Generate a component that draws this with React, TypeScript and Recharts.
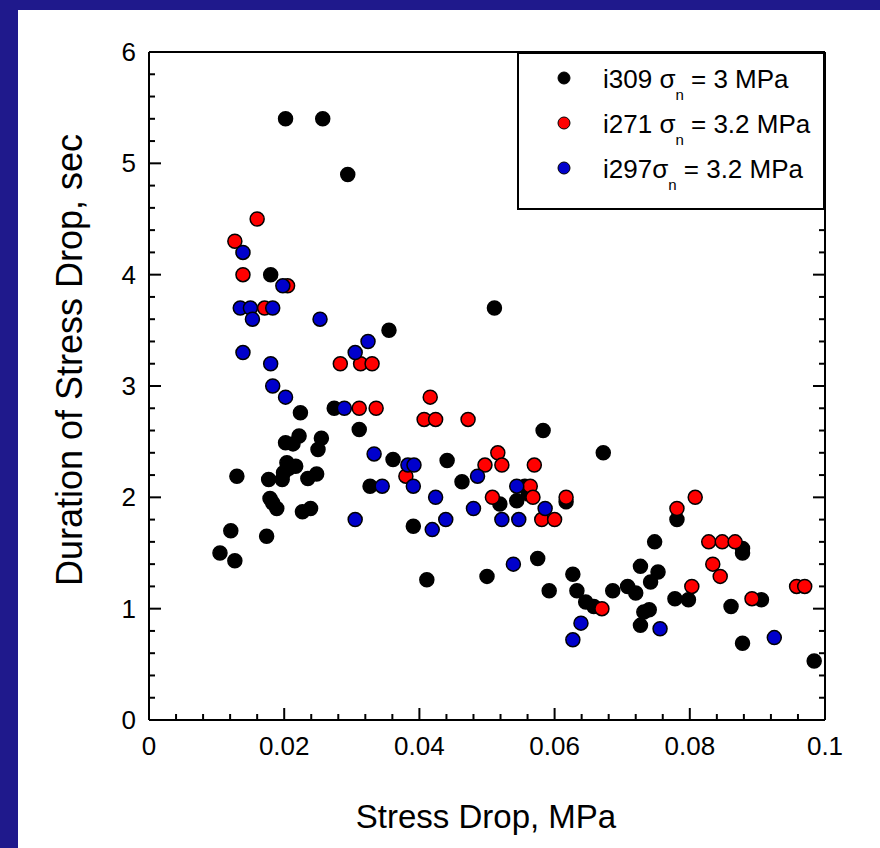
import React from "react";
import { ScatterChart, Scatter, XAxis, YAxis, Legend } from "recharts";

// i309, sigma_n = 3 MPa
const i309Stress = [
  0.0202, 0.0257, 0.0294, 0.018, 0.0355, 0.0511, 0.0224, 0.0274, 0.0311, 0.0202,
  0.0213, 0.0222, 0.0255, 0.025, 0.0361, 0.0327, 0.0204, 0.0207, 0.0217, 0.0199,
  0.013, 0.0177, 0.0197, 0.0235, 0.0248, 0.0179, 0.0183, 0.0189, 0.0227, 0.0239,
  0.0391, 0.0121, 0.0105, 0.0127, 0.0174, 0.0411, 0.0583, 0.0672, 0.0441, 0.0463,
  0.0556, 0.0561, 0.0519, 0.0544, 0.0617, 0.0781, 0.05, 0.0575, 0.0592, 0.0627,
  0.0633, 0.0646, 0.0658, 0.0686, 0.0708, 0.072, 0.0727, 0.0748, 0.0753, 0.0742,
  0.0732, 0.074, 0.0727, 0.0778, 0.0798, 0.0878, 0.0878, 0.0861, 0.0906, 0.0878,
  0.0984,
];
const i309Duration = [
  5.4, 5.4, 4.9, 4.0, 3.5, 3.7, 2.76, 2.8, 2.61, 2.49,
  2.48, 2.55, 2.53, 2.43, 2.34, 2.1, 2.31, 2.26, 2.28, 2.22,
  2.19, 2.16, 2.16, 2.17, 2.21, 1.99, 1.95, 1.9, 1.87, 1.9,
  1.74, 1.7, 1.5, 1.43, 1.65, 1.26, 2.6, 2.4, 2.33, 2.14,
  2.1, 2.03, 1.94, 1.97, 1.96, 1.8, 1.29, 1.45, 1.16, 1.31,
  1.16, 1.06, 1.02, 1.16, 1.2, 1.14, 1.38, 1.6, 1.33, 1.24,
  0.97, 0.99, 0.85, 1.09, 1.08, 1.54, 1.5, 1.02, 1.08, 0.69,
  0.53,
];

// i271, sigma_n = 3.2 MPa
const i271Stress = [
  0.016, 0.0127, 0.0139, 0.0205, 0.0171, 0.0283, 0.0313, 0.033, 0.0311, 0.0336,
  0.0416, 0.0407, 0.0424, 0.038, 0.0472, 0.0516, 0.0497, 0.0522, 0.057, 0.0564,
  0.0568, 0.0508, 0.0617, 0.0581, 0.06, 0.0781, 0.0808, 0.067, 0.0803, 0.0828,
  0.0848, 0.0867, 0.0834, 0.0845, 0.0892, 0.0958, 0.097,
];
const i271Duration = [
  4.5, 4.3, 4.0, 3.9, 3.7, 3.2, 3.2, 3.2, 2.8, 2.8,
  2.9, 2.7, 2.7, 2.19, 2.7, 2.4, 2.29, 2.29, 2.29, 2.1,
  2.0, 2.0, 2.0, 1.8, 1.8, 1.9, 2.0, 1.0, 1.2, 1.6,
  1.6, 1.6, 1.4, 1.29, 1.09, 1.2, 1.2,
];

// i297, sigma_n = 3.2 MPa
const i297Stress = [
  0.0139, 0.0198, 0.0135, 0.015, 0.0183, 0.0153, 0.0253, 0.0324, 0.0139, 0.0305,
  0.018, 0.0183, 0.0202, 0.0289, 0.0333, 0.0383, 0.0392, 0.0391, 0.0345, 0.0424,
  0.0305, 0.0419, 0.0486, 0.0544, 0.048, 0.0586, 0.0439, 0.0522, 0.0547, 0.0539,
  0.0639, 0.0627, 0.0756, 0.0925,
];
const i297Duration = [
  4.2, 3.9, 3.7, 3.7, 3.7, 3.6, 3.6, 3.4, 3.3, 3.3,
  3.2, 3.0, 2.9, 2.8, 2.39, 2.29, 2.29, 2.1, 2.1, 2.0,
  1.8, 1.71, 2.19, 2.1, 1.9, 1.9, 1.8, 1.8, 1.8, 1.4,
  0.87, 0.72, 0.82, 0.74,
];

const seriesIds = ["i309 ", "i271 ", "i297"];
const seriesStress = ["3", "3.2", "3.2"];
const seriesColors = ["#000000", "#ff0000", "#0000cc"];

const xMajorTicks = [0, 0.02, 0.04, 0.06, 0.08, 0.1];
const yMajorTicks = [0, 1, 2, 3, 4, 5, 6];
const xTicks = Array.from({ length: 26 }, (_, i) => (i * 4) / 1000);
const yTicks = Array.from({ length: 31 }, (_, i) => (i * 2) / 10);

const FONT = '"Liberation Sans", Arial, Helvetica, sans-serif';
const NAVY = "#1f198c";

const toPoints = (xs: number[], ys: number[]) => xs.map((x, i) => ({ x, y: ys[i] }));
const i309Data = toPoints(i309Stress, i309Duration);
const i271Data = toPoints(i271Stress, i271Duration);
const i297Data = toPoints(i297Stress, i297Duration);

const isMajor = (list: number[], v: number) => list.some((m) => Math.abs(m - v) < 1e-9);

function BottomTick({ x, y, payload }: any) {
  const major = isMajor(xMajorTicks, payload.value);
  return (
    <g>
      <line x1={x} y1={y} x2={x} y2={y - (major ? 12 : 6)} stroke="#000" strokeWidth={2} />
      {major && (
        <text x={x} y={y + 35} textAnchor="middle" fontSize={26} fill="#000" fontFamily={FONT}>
          {String(payload.value)}
        </text>
      )}
    </g>
  );
}

function TopTick({ x, y, payload }: any) {
  const major = isMajor(xMajorTicks, payload.value);
  return <line x1={x} y1={y} x2={x} y2={y + (major ? 12 : 6)} stroke="#000" strokeWidth={2} />;
}

function LeftTick({ x, y, payload }: any) {
  const major = isMajor(yMajorTicks, payload.value);
  return (
    <g>
      <line x1={x} y1={y} x2={x + (major ? 12 : 6)} y2={y} stroke="#000" strokeWidth={2} />
      {major && (
        <text x={x - 13} y={y + 9} textAnchor="end" fontSize={26} fill="#000" fontFamily={FONT}>
          {String(payload.value)}
        </text>
      )}
    </g>
  );
}

function RightTick({ x, y, payload }: any) {
  const major = isMajor(yMajorTicks, payload.value);
  return <line x1={x} y1={y} x2={x - (major ? 12 : 6)} y2={y} stroke="#000" strokeWidth={2} />;
}

const dot = (fill: string) => (props: any) =>
  <circle cx={props.cx} cy={props.cy} r={7} fill={fill} stroke="#000" strokeWidth={1.5} />;

function LegendBox() {
  return (
    <svg width={308} height={158} style={{ display: "block" }}>
      <rect x={1} y={1} width={306} height={156} fill="#fff" stroke="#000" strokeWidth={2} />
      {seriesIds.map((id, i) => (
        <g key={id}>
          <circle cx={47} cy={26 + i * 45} r={6} fill={seriesColors[i]} stroke="#000" strokeWidth={1} />
          <text x={86} y={36 + i * 45} fontSize={26} fill="#000" fontFamily={FONT}>
            {id}σ
            <tspan fontSize={15} dy={12}>n</tspan>
            <tspan dy={-12}>{` = ${seriesStress[i]} MPa`}</tspan>
          </text>
        </g>
      ))}
    </svg>
  );
}

export default function App() {
  return (
    <div style={{ position: "absolute", left: 0, top: 0, width: 880, height: 848, background: NAVY, overflow: "hidden" }}>
      <div style={{ position: "absolute", left: 18, top: 10, right: 0, bottom: 0, background: "#fff" }} />
      <div style={{ position: "absolute", left: 0, top: 0 }}>
        <ScatterChart width={880} height={848} margin={{ top: 42, right: 45, bottom: 88, left: 109 }}>
          <XAxis
            dataKey="x"
            type="number"
            domain={[0, 0.1]}
            ticks={xTicks}
            interval={0}
            tickSize={0}
            tickMargin={0}
            height={40}
            axisLine={{ stroke: "#000", strokeWidth: 2 }}
            tickLine={false}
            tick={<BottomTick />}
            allowDataOverflow
          />
          <XAxis
            xAxisId="top"
            orientation="top"
            type="number"
            domain={[0, 0.1]}
            ticks={xTicks}
            interval={0}
            tickSize={0}
            tickMargin={0}
            height={10}
            axisLine={{ stroke: "#000", strokeWidth: 2 }}
            tickLine={false}
            tick={<TopTick />}
            allowDataOverflow
          />
          <YAxis
            dataKey="y"
            type="number"
            domain={[0, 6]}
            ticks={yTicks}
            interval={0}
            tickSize={0}
            tickMargin={0}
            width={40}
            axisLine={{ stroke: "#000", strokeWidth: 2 }}
            tickLine={false}
            tick={<LeftTick />}
            allowDataOverflow
          />
          <YAxis
            yAxisId="right"
            orientation="right"
            type="number"
            domain={[0, 6]}
            ticks={yTicks}
            interval={0}
            tickSize={0}
            tickMargin={0}
            width={10}
            axisLine={{ stroke: "#000", strokeWidth: 2 }}
            tickLine={false}
            tick={<RightTick />}
            allowDataOverflow
          />
          <Legend
            layout="horizontal"
            verticalAlign="middle"
            align="center"
            wrapperStyle={{ left: 517, top: 52, width: 308, height: 158 }}
            content={() => <LegendBox />}
          />
          <Scatter name="i309" data={i309Data} fill="#000000" shape={dot("#000000")} isAnimationActive={false} />
          <Scatter name="i271" data={i271Data} fill="#ff0000" shape={dot("#ff0000")} isAnimationActive={false} />
          <Scatter name="i297" data={i297Data} fill="#0000cc" shape={dot("#0000cc")} isAnimationActive={false} />
        </ScatterChart>
      </div>
      <svg width={880} height={848} style={{ position: "absolute", left: 0, top: 0, pointerEvents: "none" }}>
        <text x={486} y={828} textAnchor="middle" fontSize={33} fill="#000" fontFamily={FONT}>
          Stress Drop, MPa
        </text>
        <text transform="translate(82,360) rotate(-90)" textAnchor="middle" fontSize={36} fill="#000" fontFamily={FONT}>
          Duration of Stress Drop, sec
        </text>
      </svg>
    </div>
  );
}
